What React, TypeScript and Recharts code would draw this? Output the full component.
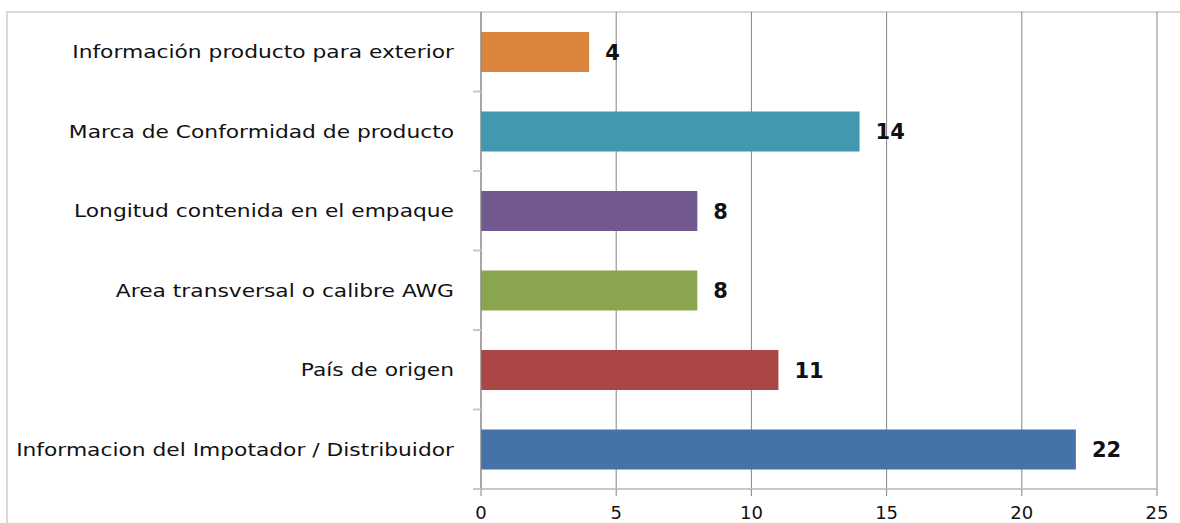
import { BarChart, Bar, XAxis, YAxis, CartesianGrid, Cell, LabelList } from "recharts";

const categories = [
  "Información producto para exterior",
  "Marca de Conformidad de producto",
  "Longitud contenida en el empaque",
  "Area transversal o calibre AWG",
  "País de origen",
  "Informacion del Impotador / Distribuidor",
];
const values = [4, 14, 8, 8, 11, 22];
const barColors = ["#DB843D", "#4198AF", "#71588F", "#89A54E", "#AA4643", "#4572A7"];
const xTicks = [0, 5, 10, 15, 20, 25];

const data = categories.map((name, i) => ({ name, value: values[i] }));

const FONT = "'DejaVu Sans', Verdana, sans-serif";
const BAND = (489 - 12) / categories.length;

const CategoryTick = (props: any) => {
  const { x, y, payload } = props;
  return (
    <g>
      <text
        transform={`translate(${x - 19},${y}) scale(1.21,1)`}
        textAnchor="end"
        dy="0.35em"
        fontSize={18}
        fontFamily={FONT}
        fill="#111"
      >
        {payload.value}
      </text>
      <line x1={x} x2={x + 8} y1={y + BAND / 2} y2={y + BAND / 2} stroke="#c8c8c8" strokeWidth={2} />
    </g>
  );
};

const ValueLabel = (props: any) => {
  const { x, y, width, height, value } = props;
  return (
    <text
      x={x + width + 16}
      y={y + height / 2}
      dy="0.36em"
      fontSize={21}
      fontWeight="bold"
      fontFamily={FONT}
      fill="#111"
    >
      {value}
    </text>
  );
};

export default function App() {
  return (
    <div style={{ position: "absolute", left: 0, top: 0, width: 1180, height: 523, overflow: "hidden", background: "#fff" }}>
      <div
        style={{
          position: "absolute",
          left: 6,
          top: 11,
          width: 1300,
          height: 700,
          border: "2px solid #d9d9d9",
        }}
      />
      <BarChart
        width={1180}
        height={523}
        data={data}
        layout="vertical"
        margin={{ top: 12, right: 23, left: 0, bottom: 0 }}
        barSize={40}
        style={{ position: "absolute", left: 0, top: 0 }}
      >
        <CartesianGrid horizontal={false} stroke="#858585" strokeWidth={1} />
        <XAxis
          type="number"
          domain={[0, 25]}
          ticks={xTicks}
          height={34}
          axisLine={{ stroke: "#c8c8c8", strokeWidth: 2 }}
          tickLine={{ stroke: "#858585" }}
          tickSize={7}
          tickMargin={10}
          tick={{ fontSize: 18, fontFamily: FONT, fill: "#111" }}
        />
        <YAxis
          type="category"
          dataKey="name"
          width={481}
          axisLine={{ stroke: "#8a8a8a", strokeWidth: 1 }}
          tickLine={false}
          tick={<CategoryTick />}
          interval={0}
        />
        <Bar dataKey="value" isAnimationActive={false}>
          {data.map((d, i) => (
            <Cell key={d.name} fill={barColors[i]} />
          ))}
          <LabelList dataKey="value" content={<ValueLabel />} />
        </Bar>
      </BarChart>
    </div>
  );
}
